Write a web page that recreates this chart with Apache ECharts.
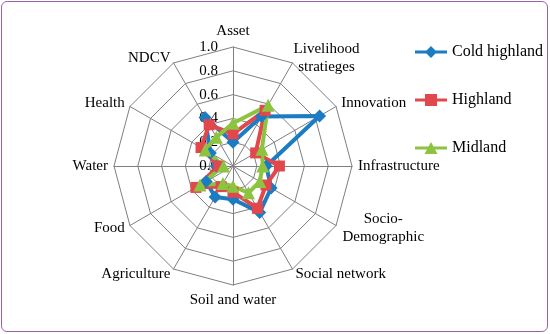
<!DOCTYPE html>
<html>
<head>
<meta charset="utf-8">
<script src="https://cdn.jsdelivr.net/npm/echarts@6/dist/echarts.min.js"></script>
<style>
    html, body { margin: 0; padding: 0; background: #fff; }
    #chart { position: absolute; left: 0; top: 0; width: 550px; height: 334px; }
    #frame {
        position: absolute; left: 1px; top: 1px; width: 545px; height: 329px;
        border: 1.5px solid #9a62a8; border-radius: 6px; pointer-events: none;
    }
</style>
</head>
<body>
<div id="chart"></div>
<div id="frame"></div>
<script>
// indicators, clockwise from the top
var categories = ["Asset", "Livelihood\nstratieges", "Innovation", "Infrastructure", "Socio-\nDemographic",
    "Social network", "Soil and water", "Agriculture", "Food", "Water", "Health", "NDCV"];

var coldHighland = [0.20, 0.48, 0.84, 0.28, 0.37, 0.45, 0.28, 0.30, 0.26, 0.14, 0.22, 0.47];
var highland     = [0.27, 0.54, 0.22, 0.39, 0.32, 0.41, 0.22, 0.20, 0.36, 0.12, 0.31, 0.40];
var midland      = [0.36, 0.59, 0.28, 0.25, 0.26, 0.26, 0.17, 0.17, 0.32, 0.08, 0.27, 0.28];

var ringLabels = ["0.0", "0.2", "0.4", "0.6", "0.8", "1.0"];

var seriesNames = ["Cold highland", "Highland", "Midland"];
var seriesColors = ["#1b7cc3", "#e2474b", "#8cc43f"];

var SERIF = "'Liberation Serif', 'DejaVu Serif', serif";

// echarts lays indicators out counter-clockwise, so keep the first and flip the rest
function toRadarOrder(arr) {
    var out = [arr[0]];
    for (var i = arr.length - 1; i > 0; i--) {
        out.push(arr[i]);
    }
    return out;
}

// legend icons: a line with the marker on it (32 x 12 box)
var BAR = "M0,4.5 L32,4.5 L32,7.5 L0,7.5 Z ";
var legendIcons = [
    "path://" + BAR + "M16,0 L22,6 L16,12 L10,6 Z",
    "path://" + BAR + "M10,0 L22,0 L22,12 L10,12 Z",
    "path://" + BAR + "M16,0 L22.5,12 L9.5,12 Z M0,0 L0,0.01 Z"
];
var markers = ["diamond", "rect", "triangle"];

function buildIndicators() {
    return toRadarOrder(categories).map(function (name, idx) {
        var item = { name: name, min: 0, max: 1 };
        if (idx === 0) {
            item.axisLabel = { show: true };
        }
        return item;
    });
}

function nameFormatter(name) {
    if (name.indexOf("Socio-") === 0) {
        return name.split("\n").map(function (l) { return "{w|" + l + "}"; }).join("\n");
    }
    if (name.indexOf("Livelihood") === 0) {
        return name.split("\n").map(function (l) { return "{v|" + l + "}"; }).join("\n");
    }
    return name;
}

var chart = echarts.init(document.getElementById("chart"), null, { renderer: "canvas" });

var series = [{
    type: "radar",
    z: 2,
    data: [coldHighland, highland, midland].map(function (vals, i) {
        return {
            name: seriesNames[i],
            value: toRadarOrder(vals),
            symbol: markers[i],
            symbolSize: i === 1 ? 11 : 13,
            itemStyle: { color: seriesColors[i] },
            lineStyle: { color: seriesColors[i], width: 4 }
        };
    })
}];

chart.setOption({
    animation: false,
    backgroundColor: "#fff",
    legend: {
        orient: "vertical",
        left: 410,
        top: 39,
        itemWidth: 32,
        itemHeight: 12,
        itemGap: 32,
        data: seriesNames.map(function (n, i) {
            return { name: n, icon: legendIcons[i], itemStyle: { color: seriesColors[i] } };
        }),
        textStyle: { fontFamily: SERIF, fontSize: 16, color: "#000", lineHeight: 16 }
    },
    radar: {
        center: [233, 166],
        radius: 119,
        startAngle: 90,
        shape: "polygon",
        splitNumber: 5,
        indicator: buildIndicators(),
        nameGap: 6,
        axisName: {
            color: "#000",
            fontFamily: SERIF,
            fontSize: 15,
            lineHeight: 18,
            formatter: nameFormatter,
            rich: {
                w: { width: 84, align: "center", fontFamily: SERIF, fontSize: 15, color: "#000", lineHeight: 18 },
                v: { width: 62, align: "center", fontFamily: SERIF, fontSize: 15, color: "#000", lineHeight: 18 }
            }
        },
        axisLine: { lineStyle: { color: "#7f7f7f", width: 1 } },
        splitLine: { lineStyle: { color: "#7f7f7f", width: 1 } },
        splitArea: { show: false },
        axisTick: { show: false },
        axisLabel: {
            show: false,
            margin: 15,
            fontFamily: SERIF,
            fontSize: 15,
            color: "#000",
            formatter: function (v) {
                return ringLabels[Math.round(v * 5)];
            }
        }
    },
    series: series
});
</script>
</body>
</html>
